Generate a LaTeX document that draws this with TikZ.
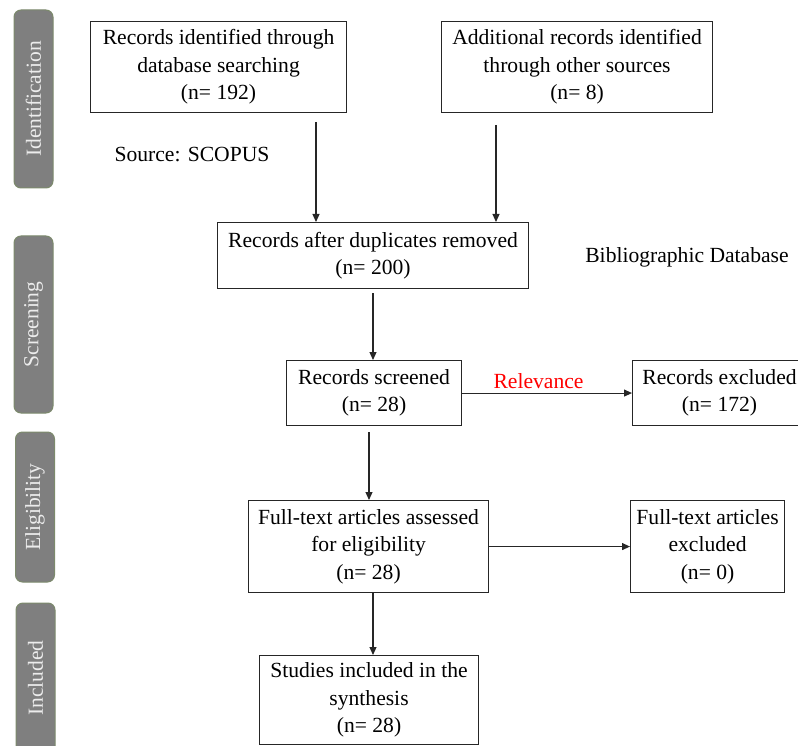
\documentclass[tikz,border=0pt]{standalone}
\usepackage{fontspec}
\setmainfont{Liberation Serif}
\usetikzlibrary{arrows.meta}
\definecolor{phasefill}{HTML}{7F7F7F}
\definecolor{phaseedge}{HTML}{7C8A6C}
\definecolor{phasetext}{HTML}{ECECEC}
\definecolor{relred}{HTML}{FF0000}
\begin{document}
\begin{tikzpicture}[x=1pt,y=-1pt,
  box/.style={draw=black!85, line width=1.1pt, inner sep=0pt, align=center,
    font=\fontsize{21.6}{27.5}\selectfont, anchor=north west},
  phase/.style={draw=phaseedge, fill=phasefill, line width=1pt, rounded corners=7pt,
    rotate=90, minimum height=39pt, inner sep=0pt, text=phasetext,
    font=\fontsize{21.5}{24}\selectfont},
  arr/.style={-{Triangle[length=8pt,width=7pt]}, line width=1.1pt, draw=black!85},
  note/.style={font=\fontsize{21.6}{26}\selectfont}]
\useasboundingbox (0,0) rectangle (798,746);
\clip (0,0) rectangle (798,746);

% phase bars on the left
\node[phase, minimum width=178pt] (pid) at (33.5,99) {Identification};
\node[phase, minimum width=177pt] (psc) at (33.5,324.5) {Screening};
\node[phase, minimum width=150pt] (pel) at (35,507) {Eligibility};
\node[phase, minimum width=150pt] (pin) at (35.5,678) {Included};

% flow boxes
\node[box, minimum width=256pt, minimum height=91pt] (A) at (90,21)
  {Records identified through\\ database searching\\ (n= 192)};
\node[box, minimum width=271pt, minimum height=91pt] (B) at (441,21)
  {Additional records identified\\ through other sources\\ (n= 8)};
\node[box, minimum width=311pt, minimum height=66pt] (C) at (217,222)
  {Records after duplicates removed\\ (n= 200)};
\node[box, minimum width=175pt, minimum height=65pt] (D) at (286,360)
  {Records screened\\ (n= 28)};
\node[box, minimum width=174pt, minimum height=65pt] (E) at (632,360)
  {Records excluded\\ (n= 172)};
\node[box, minimum width=240pt, minimum height=92pt] (F) at (248,500)
  {Full-text articles assessed\\ for eligibility\\ (n= 28)};
\node[box, minimum width=154pt, minimum height=92pt] (G) at (630,500)
  {Full-text articles\\ excluded\\ (n= 0)};
\node[box, minimum width=219pt, minimum height=89pt] (H) at (259,655)
  {Studies included in the\\ synthesis\\ (n= 28)};

% free-standing notes
\node[note] (src) at (192,155) {Source: SCOPUS};
\node[note] (bib) at (687,257) {Bibliographic Database};

% connectors
\coordinate (a1) at (316,122);
\coordinate (b1) at (496,125);
\coordinate (c1) at (373,293);
\coordinate (d1) at (369,432);
\coordinate (f1) at (373,592);
\draw[arr] (a1) -- (a1 |- C.north);
\draw[arr] (b1) -- (b1 |- C.north);
\draw[arr] (c1) -- (c1 |- D.north);
\draw[arr] (d1) -- (d1 |- F.north);
\draw[arr] (f1) -- (f1 |- H.north);
\draw[arr] (D.east) -- node[pos=0.45, above=0pt, text=relred, font=\fontsize{21.6}{26}\selectfont] {Relevance} (E.west);
\draw[arr] (F.east) -- (G.west);
\end{tikzpicture}
\end{document}
